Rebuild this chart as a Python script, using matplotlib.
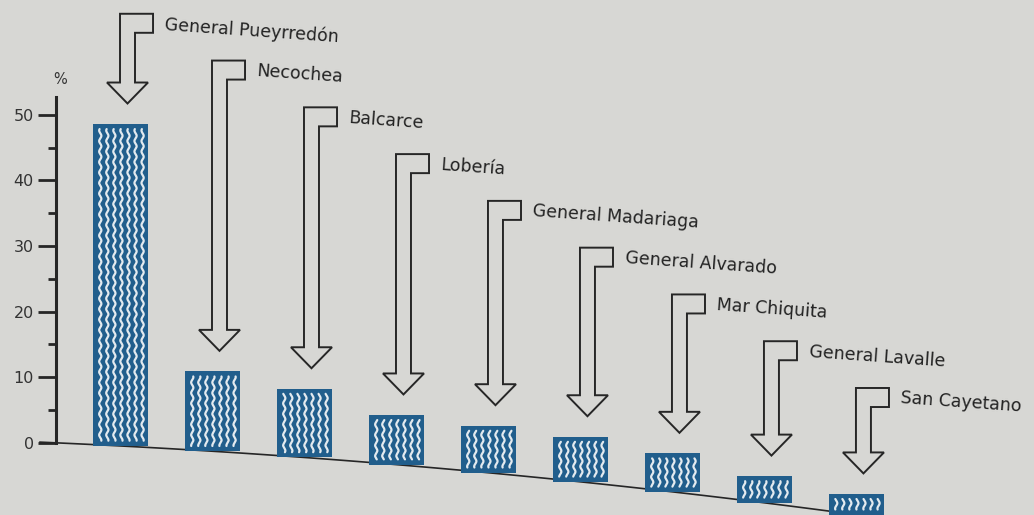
import numpy as np
import matplotlib

matplotlib.use("Agg")
import matplotlib.pyplot as plt
from matplotlib.patches import Polygon

# share (%) per partido
partidos = [
    "General Pueyrredón", "Necochea", "Balcarce", "Lobería", "General Madariaga",
    "General Alvarado", "Mar Chiquita", "General Lavalle", "San Cayetano",
]
shares = [49.1, 12.2, 10.5, 7.6, 7.2, 6.9, 5.9, 4.1, 3.2]
yticks_major = [0, 10, 20, 30, 40, 50]
yticks_minor = [5, 15, 25, 35, 45]

paper = "#d7d7d4"
ink = "#262626"
blue = "#215e8c"

fig = plt.figure(figsize=(10.34, 5.15), dpi=100, facecolor=paper)
ax = fig.add_axes([0, 0, 1, 1], facecolor=paper)
ax.set_xlim(-1.31, 9.93)
ax.set_ylim(-11.0, 67.5)

x_axis = -0.70


def page_drop(xv):
    # the printed page is curved in the photo, so the baseline sags to the right
    u = np.asarray(xv) - x_axis
    return -(0.631 * u + 0.0723 * u ** 2)


for s in ["top", "right", "bottom"]:
    ax.spines[s].set_visible(False)
ax.spines["left"].set_position(("data", x_axis))
ax.spines["left"].set_bounds(0, 52.7)
ax.spines["left"].set_linewidth(2.2)
ax.spines["left"].set_color(ink)
ax.set_xticks([])
ax.set_yticks(yticks_major)
ax.set_yticks(yticks_minor, minor=True)
ax.tick_params(axis="y", which="major", length=13, width=2.0, color=ink,
               labelsize=11.5, labelcolor="#333333", pad=3)
ax.tick_params(axis="y", which="minor", length=6, width=2.0, color=ink)
ax.text(x_axis + 0.04, 55.4, "%", ha="center", va="center", fontsize=10.5, color="#333333")

x = np.arange(len(shares))
base = page_drop(x)
width = 0.6
ax.bar(x, shares, width=width, bottom=base, color=blue, zorder=2)

# baseline
bx = np.linspace(-0.875, 8.31, 100)
ax.plot(bx, page_drop(bx), color=ink, lw=1.2, zorder=1)

# wavy white filling inside each bar
inset_l, inset_r, inset_y = 0.08, 0.06, 0.8
for xi, b0, v in zip(x, base, shares):
    yy = np.linspace(b0 + inset_y, b0 + v - inset_y, 400)
    left = xi - width / 2 + inset_l
    inner = width - inset_l - inset_r
    for k in range(7):
        xx = left + k * inner / 6 + 0.012 * np.sin(2 * np.pi * yy / 1.6)
        ax.plot(xx, yy, color="#e3eaef", lw=1.6, zorder=3, solid_capstyle="round")

# hollow hooked arrows with labels
hs, hw, hh, hook_w, hook_h, gap = 0.0815, 0.223, 3.2, 0.196, 2.9, 3.1
for i, (name, b0, v) in enumerate(zip(partidos, base, shares)):
    cx = i + 0.076
    top = 65.4 - 7.13 * i
    tip = b0 + v + gap
    hr = cx + hs + hook_w
    pts = [
        (cx - hs, top), (hr, top), (hr, top - hook_h), (cx + hs, top - hook_h),
        (cx + hs, tip + hh), (cx + hw, tip + hh), (cx, tip),
        (cx - hw, tip + hh), (cx - hs, tip + hh),
    ]
    ax.add_patch(Polygon(pts, closed=True, facecolor="none", edgecolor=ink,
                         lw=1.4, zorder=4, joinstyle="miter"))
    ax.text(hr + 0.13, top - 1.6, name, ha="left", va="center", fontsize=12.5,
            color="#222222", rotation=-4, rotation_mode="anchor")

fig.savefig("out.png", dpi=100, facecolor=paper)
